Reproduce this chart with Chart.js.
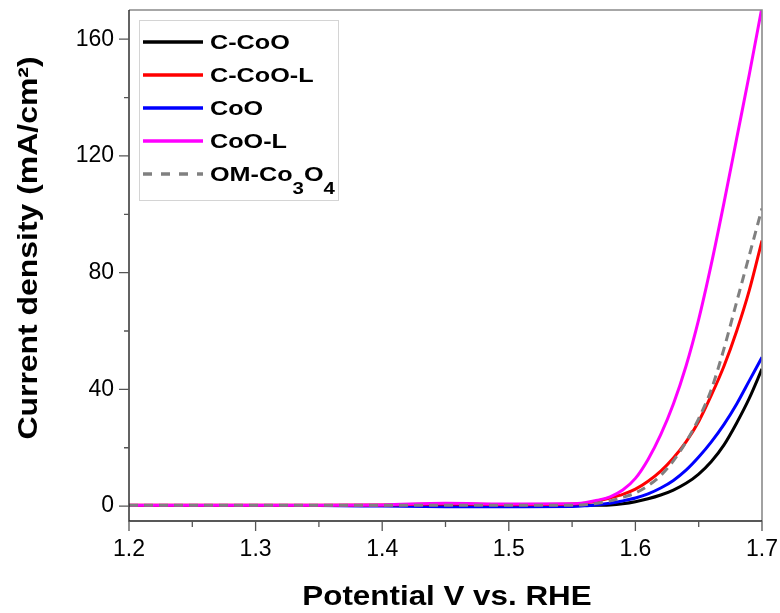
<!DOCTYPE html>
<html lang="en">
<head>
<meta charset="UTF-8">
<title>LSV curves</title>
<script src="https://cdn.jsdelivr.net/npm/chart.js"></script>
<style>
  body { margin: 0; background: #fff; }
  #wrap { width: 780px; height: 613px; }
</style>
</head>
<body>
<div id="wrap"><canvas id="lsv" width="780" height="613"></canvas></div>
<script>
  // potential (V vs. RHE) and current density (mA/cm2)
  const potential = [1.20, 1.25, 1.30, 1.35, 1.40, 1.45, 1.50, 1.55, 1.56, 1.57, 1.58, 1.59,
                     1.60, 1.61, 1.62, 1.63, 1.64, 1.65, 1.66, 1.67, 1.68, 1.69, 1.70];
  const cCoO    = [0.2, 0.2, 0.2, 0.2, 0.2, 0.2, 0.2, 0.2, 0.2, 0.3, 0.4, 0.8,
                   1.5, 2.5, 3.8, 5.5, 7.8, 11, 15.3, 21, 28.5, 37, 47];
  const cCoOL   = [0.3, 0.3, 0.3, 0.3, 0.4, 0.7, 0.5, 0.7, 1, 1.8, 2.8, 4,
                   5.8, 8.5, 12, 16.5, 22, 29, 38, 48, 60, 74, 91];
  const coO     = [0.2, 0.2, 0.2, 0.2, 0, -0.2, -0.2, -0.1, 0.1, 0.5, 1, 1.8,
                   2.8, 4.2, 6.2, 8.8, 12.3, 16.8, 22, 28, 35, 43, 51];
  const coOL    = [0.3, 0.3, 0.3, 0.3, 0.4, 1, 0.7, 0.8, 1.2, 2, 3.2, 5.5,
                   9.5, 16, 24.5, 35, 48, 64, 83, 104, 126, 148, 171];
  const omCo3O4 = [0.3, 0.3, 0.3, 0.3, 0.3, 0.3, 0.3, 0.3, 0.5, 1, 1.8, 3,
                   4.5, 7, 10.5, 15.5, 22, 30, 40, 54, 70, 86, 102];

  const seriesNames = ['C-CoO', 'C-CoO-L', 'CoO', 'CoO-L', 'OM-Co\u2083O\u2084'];
  const xTicks = [1.2, 1.3, 1.4, 1.5, 1.6, 1.7];
  const xMinor = [1.25, 1.35, 1.45, 1.55, 1.65];
  const yTicks = [0, 40, 80, 120, 160];
  const yMinor = [20, 60, 100, 140];

  const FONT = '"Liberation Sans", Arial, sans-serif';

  function pts(arr) {
    return potential.map((v, i) => ({ x: v, y: arr[i] }));
  }

  // draws text with unicode subscript digits lowered and smaller, stretched by sx
  function drawRich(ctx, text, x, y, size, sx) {
    ctx.save();
    ctx.translate(x, y);
    ctx.scale(sx, 1);
    ctx.textAlign = 'left';
    ctx.textBaseline = 'alphabetic';
    let cx = 0, run = '';
    const flush = () => {
      if (!run) return;
      ctx.font = 'bold ' + size + 'px ' + FONT;
      ctx.fillText(run, cx, 0);
      cx += ctx.measureText(run).width;
      run = '';
    };
    for (const ch of text) {
      const c = ch.charCodeAt(0);
      if (c >= 0x2080 && c <= 0x2089) {
        flush();
        const d = String(c - 0x2080);
        ctx.font = 'bold ' + Math.round(size * 0.8) + 'px ' + FONT;
        ctx.fillText(d, cx, size * 0.6);
        cx += ctx.measureText(d).width;
      } else {
        run += ch;
      }
    }
    flush();
    ctx.restore();
  }

  const framePlugin = {
    id: 'frame',
    afterDatasetsDraw(chart) {
      const ctx = chart.ctx;
      const a = chart.chartArea;
      const xs = chart.scales.x, ys = chart.scales.y;
      ctx.save();
      // top and right border
      ctx.strokeStyle = '#8a8a8a';
      ctx.lineWidth = 1.6;
      ctx.beginPath();
      ctx.moveTo(a.left, a.top); ctx.lineTo(a.right, a.top); ctx.lineTo(a.right, a.bottom);
      ctx.stroke();
      // left and bottom axis
      ctx.strokeStyle = '#222';
      ctx.lineWidth = 1.4;
      ctx.beginPath();
      ctx.moveTo(a.left, a.top); ctx.lineTo(a.left, a.bottom); ctx.lineTo(a.right, a.bottom);
      ctx.stroke();
      // ticks
      ctx.strokeStyle = '#555';
      ctx.lineWidth = 1.3;
      ctx.beginPath();
      yTicks.forEach(v => { const p = ys.getPixelForValue(v); ctx.moveTo(a.left - 10, p); ctx.lineTo(a.left, p); });
      yMinor.forEach(v => { const p = ys.getPixelForValue(v); ctx.moveTo(a.left - 5, p); ctx.lineTo(a.left, p); });
      xTicks.forEach(v => { const p = xs.getPixelForValue(v); ctx.moveTo(p, a.bottom); ctx.lineTo(p, a.bottom + 10); });
      xMinor.forEach(v => { const p = xs.getPixelForValue(v); ctx.moveTo(p, a.bottom); ctx.lineTo(p, a.bottom + 6); });
      ctx.stroke();

      // axis titles
      ctx.fillStyle = '#000';
      ctx.font = 'bold 28px ' + FONT;
      ctx.textAlign = 'center';
      ctx.textBaseline = 'middle';
      ctx.save();
      ctx.translate(447, 597);
      ctx.scale(1.12, 1);
      ctx.fillText('Potential V vs. RHE', 0, 0);
      ctx.restore();
      ctx.save();
      ctx.translate(29, 248);
      ctx.rotate(-Math.PI / 2);
      ctx.scale(1.14, 1);
      ctx.fillText('Current density (mA/cm\u00b2)', 0, 0);
      ctx.restore();

      // legend
      ctx.fillStyle = '#fff';
      ctx.fillRect(139, 20, 199, 180);
      ctx.strokeStyle = '#d4d4d4';
      ctx.lineWidth = 1;
      ctx.strokeRect(139.5, 20.5, 199, 180);
      chart.data.datasets.forEach((ds, i) => {
        const yy = 42 + i * 33;
        ctx.strokeStyle = ds.borderColor;
        ctx.lineWidth = 3.5;
        ctx.setLineDash(ds.borderDash && ds.borderDash.length ? [9, 9] : []);
        ctx.beginPath();
        ctx.moveTo(143, yy); ctx.lineTo(203, yy);
        ctx.stroke();
        ctx.setLineDash([]);
        ctx.fillStyle = '#000';
        drawRich(ctx, ds.label, 210, yy + 7, 21, 1.2);
      });
      ctx.restore();
    }
  };

  const colors = ['#000000', '#ff0000', '#0000ff', '#ff00ff', '#808080'];
  const values = [cCoO, cCoOL, coO, coOL, omCo3O4];
  const drawOrder = [4, 2, 3, 1, 0];

  new Chart(document.getElementById('lsv'), {
    type: 'line',
    data: {
      datasets: values.map((arr, i) => ({
        label: seriesNames[i],
        data: pts(arr),
        borderColor: colors[i],
        borderWidth: 3,
        borderDash: i === 4 ? [9, 6] : [],
        pointRadius: 0,
        fill: false,
        cubicInterpolationMode: 'monotone',
        order: drawOrder[i]
      }))
    },
    options: {
      responsive: false,
      devicePixelRatio: 1,
      animation: false,
      layout: { padding: { top: 10, right: 18, left: 0, bottom: 0 } },
      plugins: { legend: { display: false }, tooltip: { enabled: false } },
      scales: {
        x: {
          type: 'linear',
          min: 1.2,
          max: 1.7,
          afterBuildTicks: s => { s.ticks = xTicks.map(v => ({ value: v })); },
          afterFit: s => { s.height = 92; s.paddingLeft = 0; s.paddingRight = 0; },
          grid: { display: false, drawTicks: false },
          border: { display: false },
          ticks: {
            autoSkip: false,
            maxRotation: 0,
            padding: 15,
            color: '#000',
            font: { family: FONT, size: 23 },
            callback: v => v.toFixed(1)
          }
        },
        y: {
          type: 'linear',
          min: -5.1,
          max: 170,
          afterBuildTicks: s => { s.ticks = yTicks.map(v => ({ value: v })); },
          afterFit: s => { s.width = 129; s.paddingTop = 0; s.paddingBottom = 0; },
          grid: { display: false, drawTicks: false },
          border: { display: false },
          ticks: {
            padding: 15,
            color: '#000',
            font: { family: FONT, size: 23 },
            callback: v => String(v)
          }
        }
      }
    },
    plugins: [framePlugin]
  });
</script>
</body>
</html>
